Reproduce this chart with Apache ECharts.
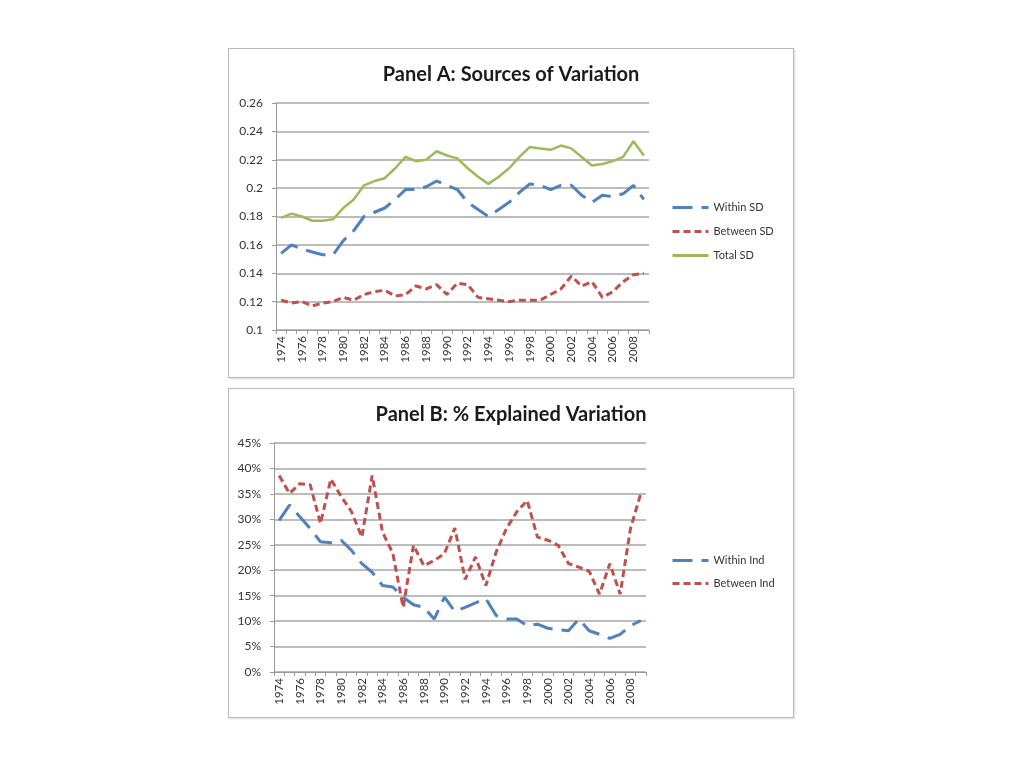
<!DOCTYPE html>
<html>
<head>
<meta charset="utf-8">
<script src="https://cdn.jsdelivr.net/npm/echarts@6/dist/echarts.min.js"></script>
<style>
  html, body { margin: 0; padding: 0; background: #ffffff; }
  .panel { position: absolute; left: 228px; width: 564px; height: 328px; border: 1px solid #b8b8b8; box-shadow: 1px 1px 2px rgba(0,0,0,0.15); background: #fff; }
  #panelA { top: 48px; }
  #panelB { top: 388px; }
</style>
</head>
<body>
<div id="panelA" class="panel"></div>
<div id="panelB" class="panel"></div>
<script>
const years = [];
for (let y = 1974; y <= 2009; y++) years.push(String(y));

// Panel A: Sources of Variation
const withinSD = [0.154,0.160,0.157,0.155,0.153,0.153,0.163,0.170,0.180,0.183,0.186,0.192,0.199,0.199,0.201,0.205,0.202,0.199,0.190,0.185,0.180,0.185,0.190,0.197,0.203,0.202,0.199,0.202,0.202,0.195,0.190,0.195,0.194,0.196,0.202,0.192];
const betweenSD = [0.121,0.119,0.120,0.117,0.119,0.120,0.123,0.121,0.125,0.127,0.128,0.124,0.125,0.131,0.129,0.132,0.125,0.133,0.132,0.123,0.122,0.121,0.120,0.121,0.121,0.121,0.125,0.129,0.138,0.131,0.134,0.123,0.127,0.134,0.139,0.140];
const totalSD = [0.179,0.182,0.180,0.177,0.177,0.178,0.186,0.192,0.202,0.205,0.207,0.214,0.222,0.219,0.220,0.226,0.223,0.221,0.214,0.208,0.203,0.208,0.214,0.222,0.229,0.228,0.227,0.230,0.228,0.222,0.216,0.217,0.219,0.222,0.233,0.223];

// Panel B: % Explained Variation (percent)
const withinInd = [29.8,32.8,30.5,28.2,25.6,25.4,25.9,23.9,21.3,19.6,17.0,16.7,14.7,13.2,12.7,10.4,14.7,11.9,12.7,13.6,14.4,11.1,10.4,10.4,9.1,9.4,8.6,8.3,8.1,10.4,8.1,7.4,6.6,7.4,9.1,10.1];
const betweenInd = [38.6,35.1,37.0,36.8,29.2,37.9,34.5,31.5,26.5,38.6,27.5,23.3,12.7,24.9,20.9,21.9,23.3,28.3,18.2,22.6,17.0,23.6,28.2,31.5,33.7,26.5,25.9,24.9,21.3,20.6,19.8,15.3,21.3,15.3,28.2,35.1];

const BLUE = '#4F81BD', RED = '#C0504D', GREEN = '#9BBB59';
const FONT = 'Lato, "Open Sans", sans-serif';

function baseOption(title, yMin, yMax, yInt, yFmt, grid, legendTop, legendGap) {
  return {
    animation: false,
    title: {
      text: title, left: 'center', top: 11,
      textStyle: { fontFamily: FONT, fontWeight: 'bold', fontSize: 20, color: '#1a1a1a' }
    },
    grid: grid,
    legend: {
      orient: 'vertical', left: 437, top: legendTop, itemGap: legendGap,
      itemWidth: 36, itemHeight: 12,
      itemStyle: { opacity: 0 },
      lineStyle: { width: 3 },
      textStyle: { fontFamily: FONT, fontSize: 11, color: '#333' }
    },
    xAxis: {
      type: 'category', data: years, boundaryGap: true,
      axisLine: { lineStyle: { color: '#999', width: 1 } },
      axisTick: { show: true, interval: 0, length: 4, lineStyle: { color: '#999' } },
      axisLabel: { interval: 1, rotate: 90, fontFamily: FONT, fontSize: 11.5, color: '#333', margin: 6 }
    },
    yAxis: {
      type: 'value', min: yMin, max: yMax, interval: yInt,
      axisLine: { show: true, lineStyle: { color: '#999', width: 1 } },
      axisTick: { show: true, length: 4, lineStyle: { color: '#999' } },
      axisLabel: { formatter: yFmt, fontFamily: FONT, fontSize: 12, color: '#333', margin: 13 },
      splitLine: { show: true, lineStyle: { color: '#a6a6a6', width: 1.5 } }
    }
  };
}

const chartA = echarts.init(document.getElementById('panelA'));
const optA = baseOption('Panel A: Sources of Variation', 0.1, 0.26, 0.02,
  function (v) { return String(Math.round(v * 100) / 100); },
  { left: 47, right: 144, top: 54, bottom: 47 }, 148, 13);
optA.series = [
  { name: 'Within SD', type: 'line', data: withinSD, symbol: 'none', color: BLUE,
    lineStyle: { color: BLUE, width: 3, type: [20, 9] } },
  { name: 'Between SD', type: 'line', data: betweenSD, symbol: 'none', color: RED,
    lineStyle: { color: RED, width: 3, type: [7, 4] } },
  { name: 'Total SD', type: 'line', data: totalSD, symbol: 'none', color: GREEN,
    lineStyle: { color: GREEN, width: 2.5 } }
];
chartA.setOption(optA);

const chartB = echarts.init(document.getElementById('panelB'));
const optB = baseOption('Panel B: % Explained Variation', 0, 45, 5,
  '{value}%',
  { left: 45, right: 147, top: 54, bottom: 45 }, 161, 12);
optB.series = [
  { name: 'Within Ind', type: 'line', data: withinInd, symbol: 'none', color: BLUE,
    lineStyle: { color: BLUE, width: 3, type: [20, 9] } },
  { name: 'Between Ind', type: 'line', data: betweenInd, symbol: 'none', color: RED,
    lineStyle: { color: RED, width: 3, type: [7, 4] } }
];
chartB.setOption(optB);
</script>
</body>
</html>
